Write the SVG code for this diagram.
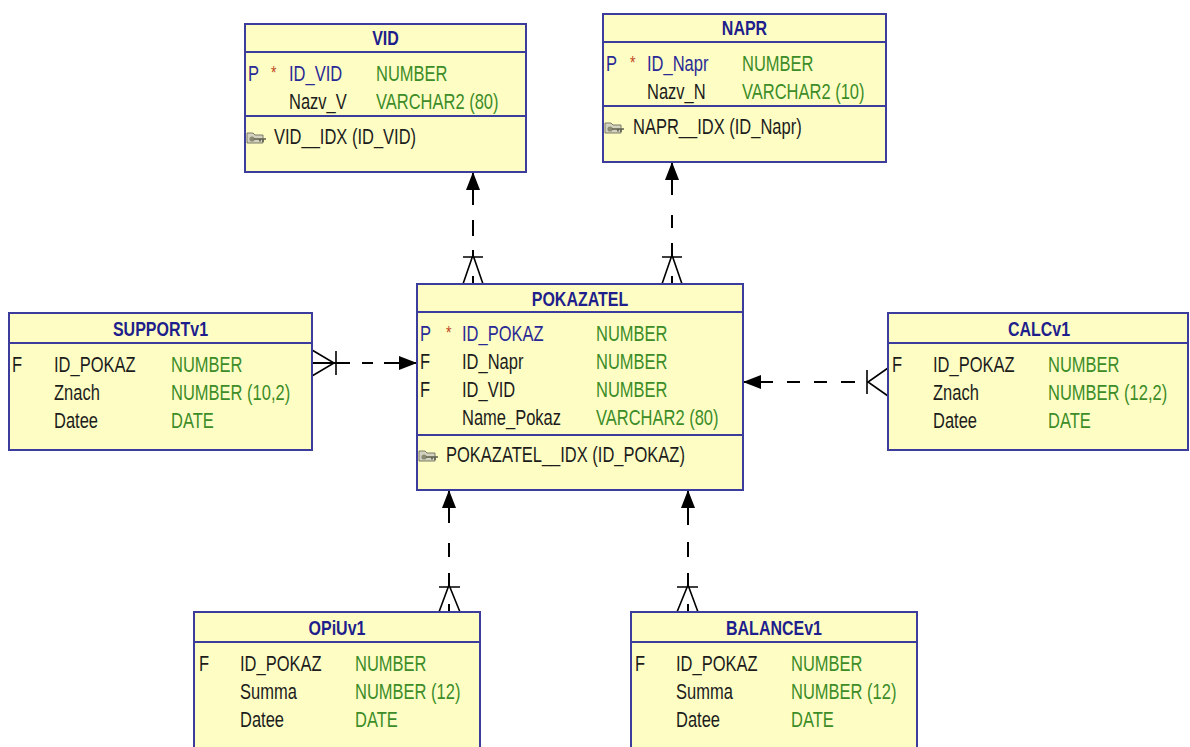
<svg xmlns="http://www.w3.org/2000/svg" width="1190" height="747" viewBox="0 0 1190 747">
  <style>
    .box { fill: #fefec4; stroke: #3c3c9c; stroke-width: 2; }
    .sep { stroke: #3c3c9c; stroke-width: 2; }
    .h { font-family: "Liberation Sans", Arial, sans-serif; font-weight: bold; font-size: 16px; fill: #1e1e8c; text-anchor: middle; }
    .t { font-family: "Liberation Sans", Arial, sans-serif; font-size: 16.5px; fill: #1c1c1c; }
    .pk { fill: #2a2a96; }
    .ty { fill: #3c8c28; }
    .st { fill: #c0481e; font-size: 14px; }
    .c { stroke: #000; stroke-width: 2; fill: none; }
    .cf { stroke: #000; stroke-width: 1.6; fill: none; }
  </style>
  <defs>
    <marker id="arr" viewBox="0 0 18 14" refX="18" refY="7" markerWidth="18" markerHeight="14" orient="auto" markerUnits="userSpaceOnUse">
      <path d="M0 0 L18 7 L0 14 z" fill="#000"/>
    </marker>
    <!-- index key icon, origin at left / vertical middle -->
    <g id="key">
      <path d="M0 -5 H6 L8 -3 H16 V5 H0 Z" fill="#d2d2be" stroke="#7a7a68" stroke-width="1"/>
      <circle cx="5" cy="1" r="2.6" fill="#8a8a74"/>
      <path d="M7 1 H19 M16 1 V4 M13 1 V3.5" stroke="#5e5e4e" stroke-width="1.6" fill="none"/>
    </g>
  </defs>

  <rect width="1190" height="747" fill="#fff"/>

  <!-- relationships -->
  <g id="connectors">
    <g id="rel-pokazatel-vid">
      <path class="c" d="M473 205 V172" marker-end="url(#arr)"/>
      <path class="c" d="M473 220 V236 M473 250 V256 M473 276 V284"/>
      <path class="cf" d="M463 257 H483 M463 284 L473 255 L483 284"/>
    </g>
    <g id="rel-pokazatel-napr">
      <path class="c" d="M672 195 V162" marker-end="url(#arr)"/>
      <path class="c" d="M672 215 V228 M672 243 V256 M672 276 V284"/>
      <path class="cf" d="M662 257 H682 M662 284 L672 255 L682 284"/>
    </g>
    <g id="rel-support-pokazatel">
      <path class="c" d="M384 363 H417" marker-end="url(#arr)"/>
      <path class="c" d="M312 363 H350 M362 363 H373"/>
      <path class="cf" d="M336 351 V375 M312 350 L334 363 L312 376"/>
    </g>
    <g id="rel-calc-pokazatel">
      <path class="c" d="M773 382 H743" marker-end="url(#arr)"/>
      <path class="c" d="M787 382 H800 M814 382 H827 M841 382 H855"/>
      <path class="cf" d="M867 370 V394 M888 368 L868 382 L888 396"/>
    </g>
    <g id="rel-opiu-pokazatel">
      <path class="c" d="M449 523 V490" marker-end="url(#arr)"/>
      <path class="c" d="M449 543 V557 M449 573 V586 M449 604 V612"/>
      <path class="cf" d="M439 587 H460 M439 612 L449 585 L460 612"/>
    </g>
    <g id="rel-balance-pokazatel">
      <path class="c" d="M688 525 V490" marker-end="url(#arr)"/>
      <path class="c" d="M688 542 V557 M688 573 V586 M688 604 V612"/>
      <path class="cf" d="M677 587 H698 M677 612 L688 585 L698 612"/>
    </g>
  </g>

  <!-- VID -->
  <g id="VID">
    <rect class="box" x="245" y="24" width="281" height="148"/>
    <path class="sep" d="M245 52 H526 M245 116 H526"/>
    <text class="h" transform="matrix(1 0 0 1.3 385.5 45)">VID</text>
    <text class="t pk" transform="matrix(1 0 0 1.3 248 80.5)">P</text>
    <text class="t st" transform="matrix(1 0 0 1.3 271 78.5)">*</text>
    <text class="t pk" transform="matrix(1 0 0 1.3 289 80.5)">ID_VID</text>
    <text class="t ty" transform="matrix(1 0 0 1.3 376 80.5)">NUMBER</text>
    <text class="t" transform="matrix(1 0 0 1.3 289 108.5)">Nazv_V</text>
    <text class="t ty" transform="matrix(1 0 0 1.3 376 108.5)">VARCHAR2 (80)</text>
    <use href="#key" x="247" y="138"/>
    <text class="t" transform="matrix(1 0 0 1.3 274 143.5)">VID__IDX (ID_VID)</text>
  </g>

  <!-- NAPR -->
  <g id="NAPR">
    <rect class="box" x="603" y="14" width="283" height="148"/>
    <path class="sep" d="M603 42 H886 M603 106 H886"/>
    <text class="h" transform="matrix(1 0 0 1.3 744.5 35)">NAPR</text>
    <text class="t pk" transform="matrix(1 0 0 1.3 606 70.5)">P</text>
    <text class="t st" transform="matrix(1 0 0 1.3 630 68.5)">*</text>
    <text class="t pk" transform="matrix(1 0 0 1.3 647 70.5)">ID_Napr</text>
    <text class="t ty" transform="matrix(1 0 0 1.3 742 70.5)">NUMBER</text>
    <text class="t" transform="matrix(1 0 0 1.3 647 98.5)">Nazv_N</text>
    <text class="t ty" transform="matrix(1 0 0 1.3 742 98.5)">VARCHAR2 (10)</text>
    <use href="#key" x="605" y="128"/>
    <text class="t" transform="matrix(1 0 0 1.3 633 133.5)">NAPR__IDX (ID_Napr)</text>
  </g>

  <!-- POKAZATEL -->
  <g id="POKAZATEL">
    <rect class="box" x="417" y="284" width="326" height="206"/>
    <path class="sep" d="M417 312 H743 M417 435 H743"/>
    <text class="h" transform="matrix(1 0 0 1.3 580 306)">POKAZATEL</text>
    <text class="t pk" transform="matrix(1 0 0 1.3 420 340.5)">P</text>
    <text class="t st" transform="matrix(1 0 0 1.3 446 338.5)">*</text>
    <text class="t pk" transform="matrix(1 0 0 1.3 462 340.5)">ID_POKAZ</text>
    <text class="t ty" transform="matrix(1 0 0 1.3 596 340.5)">NUMBER</text>
    <text class="t" transform="matrix(1 0 0 1.3 420 368.5)">F</text>
    <text class="t" transform="matrix(1 0 0 1.3 462 368.5)">ID_Napr</text>
    <text class="t ty" transform="matrix(1 0 0 1.3 596 368.5)">NUMBER</text>
    <text class="t" transform="matrix(1 0 0 1.3 420 396.5)">F</text>
    <text class="t" transform="matrix(1 0 0 1.3 462 396.5)">ID_VID</text>
    <text class="t ty" transform="matrix(1 0 0 1.3 596 396.5)">NUMBER</text>
    <text class="t" transform="matrix(1 0 0 1.3 462 424.5)">Name_Pokaz</text>
    <text class="t ty" transform="matrix(1 0 0 1.3 596 424.5)">VARCHAR2 (80)</text>
    <use href="#key" x="419" y="456"/>
    <text class="t" transform="matrix(1 0 0 1.3 446 461.5)">POKAZATEL__IDX (ID_POKAZ)</text>
  </g>

  <!-- SUPPORTv1 -->
  <g id="SUPPORTv1">
    <rect class="box" x="9" y="313" width="303" height="137"/>
    <path class="sep" d="M9 343 H312"/>
    <text class="h" transform="matrix(1 0 0 1.3 160.5 336)">SUPPORTv1</text>
    <text class="t" transform="matrix(1 0 0 1.3 12 371.5)">F</text>
    <text class="t" transform="matrix(1 0 0 1.3 54 371.5)">ID_POKAZ</text>
    <text class="t ty" transform="matrix(1 0 0 1.3 171 371.5)">NUMBER</text>
    <text class="t" transform="matrix(1 0 0 1.3 54 399.5)">Znach</text>
    <text class="t ty" transform="matrix(1 0 0 1.3 171 399.5)">NUMBER (10,2)</text>
    <text class="t" transform="matrix(1 0 0 1.3 54 427.5)">Datee</text>
    <text class="t ty" transform="matrix(1 0 0 1.3 171 427.5)">DATE</text>
  </g>

  <!-- CALCv1 -->
  <g id="CALCv1">
    <rect class="box" x="888" y="313" width="300" height="137"/>
    <path class="sep" d="M888 343 H1188"/>
    <text class="h" transform="matrix(1 0 0 1.3 1039 336)">CALCv1</text>
    <text class="t" transform="matrix(1 0 0 1.3 892 371.5)">F</text>
    <text class="t" transform="matrix(1 0 0 1.3 933 371.5)">ID_POKAZ</text>
    <text class="t ty" transform="matrix(1 0 0 1.3 1048 371.5)">NUMBER</text>
    <text class="t" transform="matrix(1 0 0 1.3 933 399.5)">Znach</text>
    <text class="t ty" transform="matrix(1 0 0 1.3 1048 399.5)">NUMBER (12,2)</text>
    <text class="t" transform="matrix(1 0 0 1.3 933 427.5)">Datee</text>
    <text class="t ty" transform="matrix(1 0 0 1.3 1048 427.5)">DATE</text>
  </g>

  <!-- OPiUv1 -->
  <g id="OPiUv1">
    <rect class="box" x="194" y="612" width="286" height="150"/>
    <path class="sep" d="M194 642 H480"/>
    <text class="h" transform="matrix(1 0 0 1.3 337 635)">OPiUv1</text>
    <text class="t" transform="matrix(1 0 0 1.3 199 670.5)">F</text>
    <text class="t" transform="matrix(1 0 0 1.3 240 670.5)">ID_POKAZ</text>
    <text class="t ty" transform="matrix(1 0 0 1.3 355 670.5)">NUMBER</text>
    <text class="t" transform="matrix(1 0 0 1.3 240 698.5)">Summa</text>
    <text class="t ty" transform="matrix(1 0 0 1.3 355 698.5)">NUMBER (12)</text>
    <text class="t" transform="matrix(1 0 0 1.3 240 726.5)">Datee</text>
    <text class="t ty" transform="matrix(1 0 0 1.3 355 726.5)">DATE</text>
  </g>

  <!-- BALANCEv1 -->
  <g id="BALANCEv1">
    <rect class="box" x="631" y="612" width="286" height="150"/>
    <path class="sep" d="M631 642 H917"/>
    <text class="h" transform="matrix(1 0 0 1.3 774 635)">BALANCEv1</text>
    <text class="t" transform="matrix(1 0 0 1.3 635 670.5)">F</text>
    <text class="t" transform="matrix(1 0 0 1.3 676 670.5)">ID_POKAZ</text>
    <text class="t ty" transform="matrix(1 0 0 1.3 791 670.5)">NUMBER</text>
    <text class="t" transform="matrix(1 0 0 1.3 676 698.5)">Summa</text>
    <text class="t ty" transform="matrix(1 0 0 1.3 791 698.5)">NUMBER (12)</text>
    <text class="t" transform="matrix(1 0 0 1.3 676 726.5)">Datee</text>
    <text class="t ty" transform="matrix(1 0 0 1.3 791 726.5)">DATE</text>
  </g>
</svg>
